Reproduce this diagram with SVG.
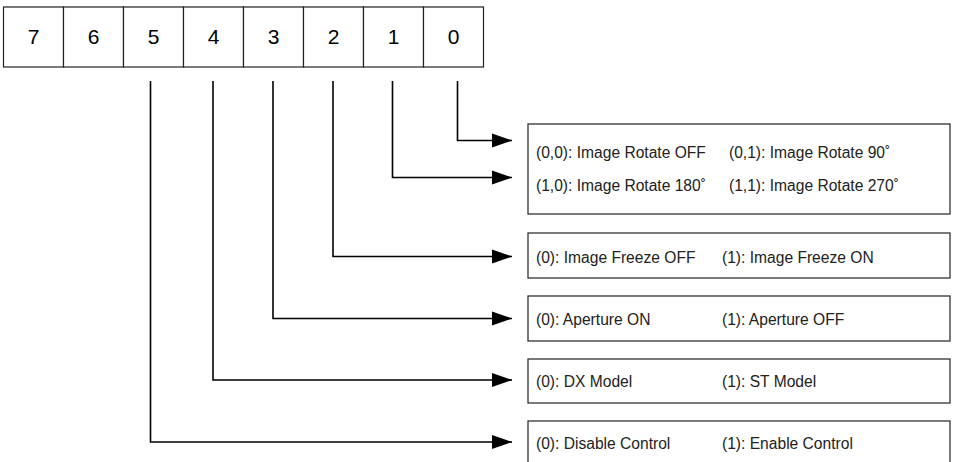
<svg xmlns="http://www.w3.org/2000/svg" width="953" height="462" viewBox="0 0 953 462">
<defs>
<style>
.cell{fill:#fff;stroke:#222;stroke-width:1.2}
.digit{font-family:"Liberation Sans",Arial,sans-serif;font-size:21px;fill:#000;text-anchor:middle}
.box{fill:#fff;stroke:#333;stroke-width:1.3}
.lbl{font-family:"Liberation Sans",Arial,sans-serif;font-size:15.6px;fill:#222}
.conn{fill:none;stroke:#000;stroke-width:1.6}
</style>
<marker id="arr" markerWidth="20" markerHeight="16" refX="20" refY="8" orient="auto" markerUnits="userSpaceOnUse">
<path d="M0,1 L20,8 L0,15 Z" fill="#000"/>
</marker>
</defs>
<rect width="953" height="462" fill="#fff"/>
<g id="register">
<rect class="cell" x="3.5" y="7" width="60" height="60"/>
<rect class="cell" x="63.5" y="7" width="60" height="60"/>
<rect class="cell" x="123.5" y="7" width="60" height="60"/>
<rect class="cell" x="183.5" y="7" width="60" height="60"/>
<rect class="cell" x="243.5" y="7" width="60" height="60"/>
<rect class="cell" x="303.5" y="7" width="60" height="60"/>
<rect class="cell" x="363.5" y="7" width="60" height="60"/>
<rect class="cell" x="423.5" y="7" width="60" height="60"/>
<text class="digit" x="33.5" y="44">7</text>
<text class="digit" x="93.5" y="44">6</text>
<text class="digit" x="153.5" y="44">5</text>
<text class="digit" x="213.5" y="44">4</text>
<text class="digit" x="273.5" y="44">3</text>
<text class="digit" x="333.5" y="44">2</text>
<text class="digit" x="393.5" y="44">1</text>
<text class="digit" x="453.5" y="44">0</text>
</g>
<g id="connectors">
<path class="conn" marker-end="url(#arr)" d="M457.5,81 V140.5 H512"/>
<path class="conn" marker-end="url(#arr)" d="M392.5,81 V177.5 H512"/>
<path class="conn" marker-end="url(#arr)" d="M333,81 V256.5 H512"/>
<path class="conn" marker-end="url(#arr)" d="M273,81 V318.5 H512"/>
<path class="conn" marker-end="url(#arr)" d="M213,81 V380 H512"/>
<path class="conn" marker-end="url(#arr)" d="M150.5,81 V442 H512"/>
</g>
<g id="rotate">
<rect class="box" x="528" y="124" width="422" height="90"/>
<text class="lbl" x="536" y="158">(0,0): Image Rotate OFF</text>
<text class="lbl" x="729" y="158">(0,1): Image Rotate 90˚</text>
<text class="lbl" x="536" y="191">(1,0): Image Rotate 180˚</text>
<text class="lbl" x="729" y="191">(1,1): Image Rotate 270˚</text>
</g>
<g id="freeze">
<rect class="box" x="528" y="233" width="422" height="45"/>
<text class="lbl" x="536" y="263">(0): Image Freeze OFF</text>
<text class="lbl" x="722" y="263">(1): Image Freeze ON</text>
</g>
<g id="aperture">
<rect class="box" x="528" y="296" width="422" height="45"/>
<text class="lbl" x="536" y="325">(0): Aperture ON</text>
<text class="lbl" x="722" y="325">(1): Aperture OFF</text>
</g>
<g id="model">
<rect class="box" x="528" y="359" width="422" height="44"/>
<text class="lbl" x="536" y="387">(0): DX Model</text>
<text class="lbl" x="722" y="387">(1): ST Model</text>
</g>
<g id="control">
<rect class="box" x="528" y="421" width="422" height="60"/>
<text class="lbl" x="536" y="449">(0): Disable Control</text>
<text class="lbl" x="722" y="449">(1): Enable Control</text>
</g>
</svg>
